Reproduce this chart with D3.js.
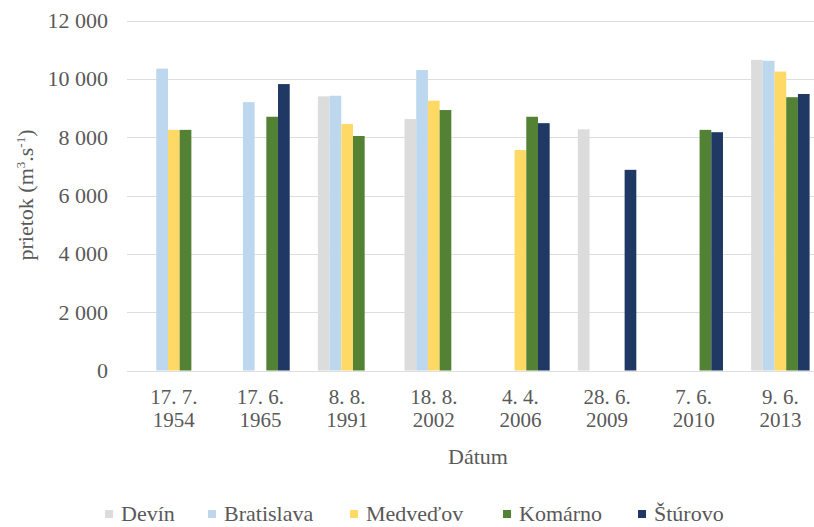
<!DOCTYPE html>
<html>
<head>
<meta charset="utf-8">
<script src="https://cdn.jsdelivr.net/npm/d3@7"></script>
<style>
  html, body { margin: 0; padding: 0; background: #fff; }
  svg { display: block; }
  svg text { font-family: "Liberation Serif", "DejaVu Serif", "Times New Roman", Times, serif; fill: #595959; }
</style>
</head>
<body>
<svg id="chart" width="814" height="527"></svg>
<script>
// Flood peak discharges on the Danube by station and date
const dates = [["17. 7.", "1954"], ["17. 6.", "1965"], ["8. 8.", "1991"], ["18. 8.", "2002"],
               ["4. 4.", "2006"], ["28. 6.", "2009"], ["7. 6.", "2010"], ["9. 6.", "2013"]];
const stations = ["Devín", "Bratislava", "Medveďov", "Komárno", "Štúrovo"];
const colors = ["#dcdcdc", "#bdd7ee", "#ffd966", "#548235", "#203864"];

// Discharge values per station, one entry per date (null = no data)
const devin      = [null, null, 9400, 8620, null, 8270, null, 10650];
const bratislava = [10350, 9200, 9420, 10300, null, null, null, 10620];
const medvedov   = [8250, null, 8450, 9250, 7560, null, null, 10250];
const komarno    = [8250, 8700, 8040, 8930, 8700, null, 8250, 9370];
const sturovo    = [null, 9820, null, null, 8480, 6880, 8170, 9480];
const series = [devin, bratislava, medvedov, komarno, sturovo];

const yTicks = [0, 2000, 4000, 6000, 8000, 10000, 12000];

const SERIF = "'Liberation Serif', 'DejaVu Serif', 'Times New Roman', Times, serif";
const svg = d3.select("#chart");
const plot = { left: 130.5, right: 823.7, top: 20.5, bottom: 370.5 };

const x0 = d3.scaleBand()
  .domain(d3.range(dates.length))
  .range([plot.left, plot.right])
  .paddingInner(0.325)
  .paddingOuter(0.1625);

const x1 = d3.scaleBand()
  .domain(d3.range(stations.length))
  .range([0, x0.bandwidth()]);

const y = d3.scaleLinear().domain([0, 12000]).range([plot.bottom, plot.top]);

const fmt = v => d3.format(",")(v).replace(/,/g, " ");

// Horizontal gridlines
svg.append("g")
  .selectAll("line")
  .data(yTicks)
  .join("line")
  .attr("x1", 127).attr("x2", 814)
  .attr("y1", d => Math.round(y(d)) + 0.5)
  .attr("y2", d => Math.round(y(d)) + 0.5)
  .attr("stroke", "#dedede")
  .attr("stroke-width", 1.2);

// Y axis labels
const yAxis = d3.axisLeft(y).tickValues(yTicks).tickFormat(fmt).tickSize(0).tickPadding(0);
const yG = svg.append("g").attr("transform", "translate(108,0)").call(yAxis)
  .attr("font-family", SERIF);
yG.select(".domain").remove();
yG.selectAll("text")
  .attr("font-size", 22)
  .attr("fill", "#595959")
  .attr("dy", "0.32em");

// Bars
const groups = svg.append("g")
  .selectAll("g")
  .data(dates.map((d, i) => i))
  .join("g")
  .attr("transform", i => `translate(${x0(i)},0)`);

groups.selectAll("rect")
  .data(i => series.map((s, k) => ({ k, v: s[i] })).filter(d => d.v != null))
  .join("rect")
  .attr("x", d => x1(d.k))
  .attr("width", x1.bandwidth())
  .attr("y", d => y(d.v))
  .attr("height", d => y(0) - y(d.v))
  .attr("fill", d => colors[d.k]);

// Category labels (two lines)
const xAxis = d3.axisBottom(x0).tickSize(0).tickFormat(() => "");
const xG = svg.append("g").attr("transform", `translate(0,${plot.bottom})`).call(xAxis)
  .attr("font-family", SERIF);
xG.select(".domain").remove();
xG.selectAll(".tick").each(function (i) {
  const t = d3.select(this).select("text")
    .attr("font-size", 21)
    .attr("fill", "#595959")
    .attr("y", 0).attr("dy", null);
  t.append("tspan").attr("x", 0).attr("y", 33.5).text(dates[i][0]);
  t.append("tspan").attr("x", 0).attr("y", 56).text(dates[i][1]);
});

// Axis titles
svg.append("text")
  .attr("x", 478).attr("y", 464)
  .attr("text-anchor", "middle")
  .attr("font-size", 22)
  .text("Dátum");

const yt = svg.append("text")
  .attr("transform", "translate(33,195) rotate(-90)")
  .attr("text-anchor", "middle")
  .attr("font-size", 22);
yt.append("tspan").text("prietok (m");
yt.append("tspan").attr("font-size", 13).attr("dy", -8).text("3");
yt.append("tspan").attr("dy", 8).text(".s");
yt.append("tspan").attr("font-size", 13).attr("dy", -8).text("-1");
yt.append("tspan").attr("dy", 8).text(")");

// Legend
const legendX = [105, 208, 350, 503, 638];
const lg = svg.append("g")
  .selectAll("g")
  .data(stations)
  .join("g")
  .attr("transform", (d, i) => `translate(${legendX[i]},510)`);
lg.append("rect").attr("width", 8).attr("height", 8).attr("fill", (d, i) => colors[i]);
lg.append("text")
  .attr("x", 16).attr("y", 11)
  .attr("font-size", 22)
  .text(d => d);
</script>
</body>
</html>
